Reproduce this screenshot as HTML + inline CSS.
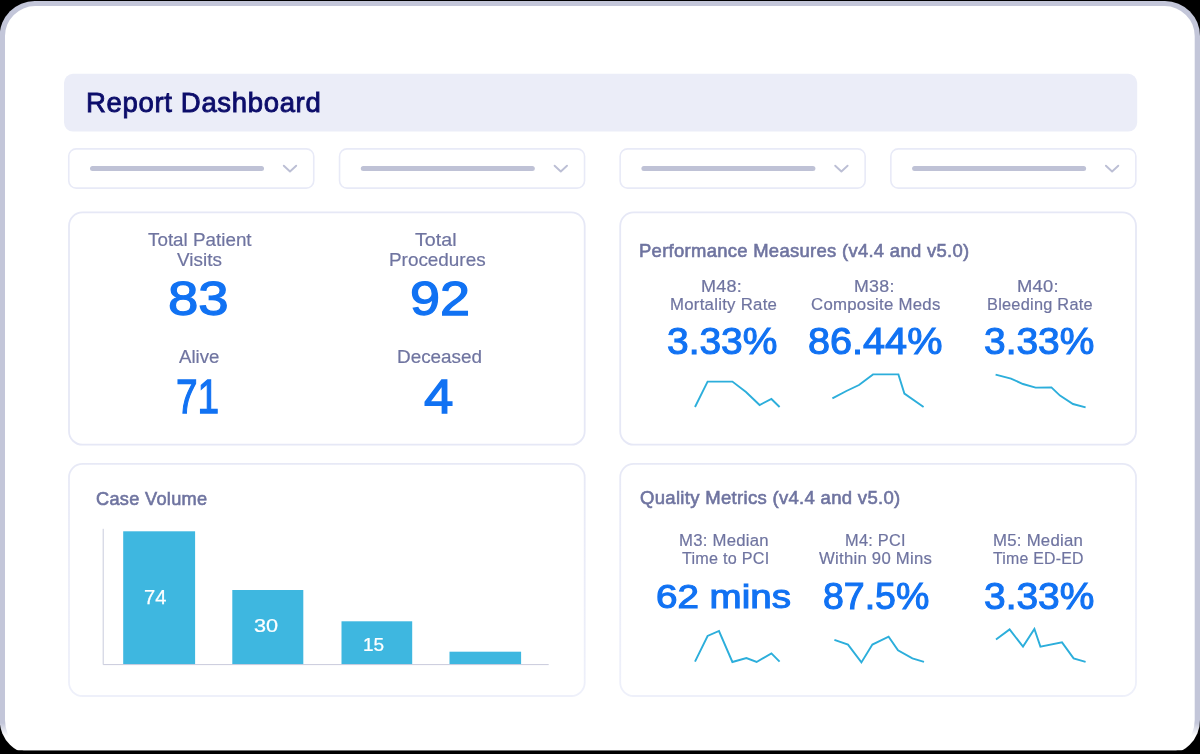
<!DOCTYPE html>
<html lang="en">
<head>
<meta charset="utf-8">
<title>Report Dashboard</title>
<style>
  html, body { margin: 0; padding: 0; }
  body {
    width: 1200px; height: 754px; overflow: hidden; position: relative;
    background: #000;
    font-family: "Liberation Sans", sans-serif;
  }
  #base { position: absolute; left: 0; top: 0; }
  #text { position: absolute; left: 0; top: 0; width: 1200px; height: 754px; will-change: transform; }
  .t { position: absolute; white-space: nowrap; line-height: 1; transform-origin: 0 0; }
</style>
</head>
<body>
<svg id="base" width="1200" height="754" viewBox="0 0 1200 754">
  <defs>
    <linearGradient id="fr" gradientUnits="userSpaceOnUse" x1="0" y1="723" x2="0" y2="736">
      <stop offset="0" stop-color="#c3c6d9"/><stop offset="1" stop-color="#ffffff"/>
    </linearGradient>
    <linearGradient id="cb" gradientUnits="userSpaceOnUse" x1="0" y1="464" x2="0" y2="696">
      <stop offset="0" stop-color="#e7e9f6"/><stop offset="1" stop-color="#eef0fa"/>
    </linearGradient>
    <clipPath id="cut"><rect x="0" y="0" width="1200" height="750.3"/></clipPath>
  </defs>
  <!-- device frame -->
  <g clip-path="url(#cut)">
    <rect x="-0.3" y="1" width="1200.3" height="754" rx="35" fill="url(#fr)"/>
    <path d="M35 6.1 H1164.7 A30 30 0 0 1 1194.7 36.1 V720 A35 35 0 0 1 1159.7 755 H40 A35 35 0 0 1 5 720 V36.1 A30 30 0 0 1 35 6.1 Z" fill="#fff"/>
  </g>
  <!-- title bar -->
  <rect x="64" y="73.8" width="1073.2" height="57.8" rx="9" fill="#ebedf8"/>
  <!-- dropdowns -->
  <g transform="translate(68,148)">
    <rect x="0.75" y="0.85" width="245" height="39.3" rx="7.5" fill="#fff" stroke="#e8eaf7" stroke-width="1.6"/>
    <rect x="22" y="18.1" width="174" height="5" rx="2.5" fill="#bfc2d6"/>
    <path d="M215.8 17.7 L222 23.5 L228.2 17.7" fill="none" stroke="#bcbfd5" stroke-width="1.9" stroke-linejoin="round" stroke-linecap="round"/>
  </g>
  <g transform="translate(338.8,148)">
    <rect x="0.75" y="0.85" width="245" height="39.3" rx="7.5" fill="#fff" stroke="#e8eaf7" stroke-width="1.6"/>
    <rect x="22" y="18.1" width="174" height="5" rx="2.5" fill="#bfc2d6"/>
    <path d="M215.8 17.7 L222 23.5 L228.2 17.7" fill="none" stroke="#bcbfd5" stroke-width="1.9" stroke-linejoin="round" stroke-linecap="round"/>
  </g>
  <g transform="translate(619.4,148)">
    <rect x="0.75" y="0.85" width="245" height="39.3" rx="7.5" fill="#fff" stroke="#e8eaf7" stroke-width="1.6"/>
    <rect x="22" y="18.1" width="174" height="5" rx="2.5" fill="#bfc2d6"/>
    <path d="M215.8 17.7 L222 23.5 L228.2 17.7" fill="none" stroke="#bcbfd5" stroke-width="1.9" stroke-linejoin="round" stroke-linecap="round"/>
  </g>
  <g transform="translate(890.1,148)">
    <rect x="0.75" y="0.85" width="245" height="39.3" rx="7.5" fill="#fff" stroke="#e8eaf7" stroke-width="1.6"/>
    <rect x="22" y="18.1" width="174" height="5" rx="2.5" fill="#bfc2d6"/>
    <path d="M215.8 17.7 L222 23.5 L228.2 17.7" fill="none" stroke="#bcbfd5" stroke-width="1.9" stroke-linejoin="round" stroke-linecap="round"/>
  </g>
  <!-- cards -->
  <g fill="#fff" stroke="#e6e8f6" stroke-width="1.8">
    <rect x="69" y="212.4" width="515.7" height="232.3" rx="13.5"/>
    <rect x="620.2" y="212.4" width="515.8" height="232.3" rx="13.5"/>
    <rect x="69" y="463.9" width="515.7" height="232.1" rx="13.5" stroke="url(#cb)"/>
    <rect x="620.2" y="463.9" width="515.8" height="232.1" rx="13.5" stroke="url(#cb)"/>
  </g>
  <!-- bar chart -->
  <g fill="#3eb7e0">
    <rect x="123.2" y="531.3" width="71.9" height="133.2"/>
    <rect x="232.3" y="590" width="71" height="74.5"/>
    <rect x="341.5" y="621.3" width="70.7" height="43.2"/>
    <rect x="449.5" y="651.7" width="71.6" height="12.8"/>
  </g>
  <path d="M103.2 528.8 V664.6 H548.7" fill="none" stroke="#c9cbdc" stroke-width="1"/>
  <!-- sparklines -->
  <g fill="none" stroke="#2caedb" stroke-width="1.9" stroke-linejoin="miter">
    <polyline points="695,407 707.6,381.6 732.4,381.6 746,392 759.6,405 771.4,399 779.6,407"/>
    <polyline points="832.4,398.4 846.4,391 859,385 873,374.4 898.4,374.4 904.4,393.6 923.6,407"/>
    <polyline points="995.6,374.6 1011,378.6 1023,384 1035.6,387.6 1051.4,387.4 1060,395.6 1073,404 1085.6,407.4"/>
    <polyline points="695,661.6 707.6,636 719,631 732.4,662 746.4,658 756.6,662 771.4,653.4 779.6,661.6"/>
    <polyline points="834.4,639.8 848,644.6 861.4,662.4 872.4,644.6 888.6,636.6 898,650.4 912.4,658.4 924,661.8"/>
    <polyline points="996,639.6 1009.6,629.4 1023,646.6 1034.4,629 1040.4,646.6 1062,642.4 1073.6,658.4 1085.6,661.8"/>
  </g>
</svg>
<div id="text">
<!-- TEXT-START -->
<div class="t" style="left:86.08px;top:87.64px;font-size:28.5px;color:#0c0d6a;letter-spacing:0.7px;-webkit-text-stroke:0.9px #0c0d6a;transform:scale(0.9644,1.0002)">Report Dashboard</div>
<div class="t" style="left:147.7px;top:230.94px;font-size:18.9px;color:#6f74a0;-webkit-text-stroke:0.2px #6f74a0;transform:scale(0.9965,1.0004)">Total Patient</div>
<div class="t" style="left:176.99px;top:250.27px;font-size:19.2px;color:#6f74a0;-webkit-text-stroke:0.2px #6f74a0;transform:scale(0.9862,0.9974)">Visits</div>
<div class="t" style="left:168.08px;top:274.02px;font-size:48.1px;color:#1172f3;-webkit-text-stroke:1.25px #1172f3;transform:scale(1.135,1.0)">83</div>
<div class="t" style="left:415.18px;top:230.94px;font-size:18.9px;color:#6f74a0;-webkit-text-stroke:0.2px #6f74a0;transform:scale(1.0411,1.0004)">Total</div>
<div class="t" style="left:389.05px;top:250.27px;font-size:19.2px;color:#6f74a0;-webkit-text-stroke:0.2px #6f74a0;transform:scale(0.9843,0.9974)">Procedures</div>
<div class="t" style="left:409.91px;top:274.0px;font-size:48.1px;color:#1172f3;-webkit-text-stroke:1.25px #1172f3;transform:scale(1.1235,1.0001)">92</div>
<div class="t" style="left:179.04px;top:347.94px;font-size:18.9px;color:#6f74a0;-webkit-text-stroke:0.2px #6f74a0;transform:scale(0.9873,1.0004)">Alive</div>
<div class="t" style="left:176.41px;top:373.34px;font-size:47.7px;color:#1172f3;-webkit-text-stroke:1.25px #1172f3;transform:scale(0.8142,1.0013)">71</div>
<div class="t" style="left:397.3px;top:347.94px;font-size:18.9px;color:#6f74a0;-webkit-text-stroke:0.2px #6f74a0;transform:scale(0.9999,1.0004)">Deceased</div>
<div class="t" style="left:424.48px;top:373.34px;font-size:47.7px;color:#1172f3;-webkit-text-stroke:1.25px #1172f3;transform:scale(1.1075,1.0013)">4</div>
<div class="t" style="left:639.49px;top:241.92px;font-size:18.4px;color:#6f74a0;letter-spacing:0.3px;-webkit-text-stroke:0.6px #6f74a0;transform:scale(1.002,1.0041)">Performance Measures (v4.4 and v5.0)</div>
<div class="t" style="left:701.13px;top:278.73px;font-size:16.7px;color:#6f74a0;letter-spacing:0.25px;-webkit-text-stroke:0.2px #6f74a0;transform:scale(1.0794,0.9962)">M48:</div>
<div class="t" style="left:669.96px;top:295.76px;font-size:16.5px;color:#6f74a0;letter-spacing:0.25px;-webkit-text-stroke:0.2px #6f74a0;transform:scale(1.0178,1.001)">Mortality Rate</div>
<div class="t" style="left:853.65px;top:278.73px;font-size:16.7px;color:#6f74a0;letter-spacing:0.25px;-webkit-text-stroke:0.2px #6f74a0;transform:scale(1.0652,0.9962)">M38:</div>
<div class="t" style="left:810.91px;top:295.76px;font-size:16.5px;color:#6f74a0;letter-spacing:0.25px;-webkit-text-stroke:0.2px #6f74a0;transform:scale(1.0176,1.001)">Composite Meds</div>
<div class="t" style="left:1017.35px;top:278.73px;font-size:16.7px;color:#6f74a0;letter-spacing:0.25px;-webkit-text-stroke:0.2px #6f74a0;transform:scale(1.1007,0.9962)">M40:</div>
<div class="t" style="left:987.0px;top:295.76px;font-size:16.5px;color:#6f74a0;letter-spacing:0.25px;-webkit-text-stroke:0.2px #6f74a0;transform:scale(0.9902,1.001)">Bleeding Rate</div>
<div class="t" style="left:666.93px;top:323.3px;font-size:37.2px;color:#1172f3;-webkit-text-stroke:1.1px #1172f3;transform:scale(1.0468,0.9989)">3.33%</div>
<div class="t" style="left:808.45px;top:323.3px;font-size:37.2px;color:#1172f3;-webkit-text-stroke:1.1px #1172f3;transform:scale(1.0653,0.9989)">86.44%</div>
<div class="t" style="left:984.13px;top:323.3px;font-size:37.2px;color:#1172f3;-webkit-text-stroke:1.1px #1172f3;transform:scale(1.0459,0.9989)">3.33%</div>
<div class="t" style="left:96.36px;top:489.53px;font-size:18.6px;color:#6f74a0;letter-spacing:0.3px;-webkit-text-stroke:0.6px #6f74a0;transform:scale(0.9785,0.9974)">Case Volume</div>
<div class="t" style="left:144.09px;top:586.86px;font-size:20.0px;color:#ffffff;-webkit-text-stroke:0.25px #ffffff;transform:scale(1.0055,1.0004)">74</div>
<div class="t" style="left:254.11px;top:616.23px;font-size:19.1px;color:#ffffff;-webkit-text-stroke:0.25px #ffffff;transform:scale(1.1346,0.9963)">30</div>
<div class="t" style="left:362.98px;top:634.96px;font-size:19.0px;color:#ffffff;-webkit-text-stroke:0.25px #ffffff;transform:scale(1.0029,0.9994)">15</div>
<div class="t" style="left:640.12px;top:489.22px;font-size:18.4px;color:#6f74a0;letter-spacing:0.3px;-webkit-text-stroke:0.6px #6f74a0;transform:scale(1.0072,1.0041)">Quality Metrics (v4.4 and v5.0)</div>
<div class="t" style="left:679.23px;top:533.03px;font-size:16.7px;color:#6f74a0;letter-spacing:0.25px;-webkit-text-stroke:0.2px #6f74a0;transform:scale(1.0024,0.9962)">M3: Median</div>
<div class="t" style="left:682.02px;top:551.13px;font-size:16.7px;color:#6f74a0;letter-spacing:0.25px;-webkit-text-stroke:0.2px #6f74a0;transform:scale(0.9702,0.9962)">Time to PCI</div>
<div class="t" style="left:845.0px;top:533.03px;font-size:16.7px;color:#6f74a0;letter-spacing:0.25px;-webkit-text-stroke:0.2px #6f74a0;transform:scale(0.9809,0.9962)">M4: PCI</div>
<div class="t" style="left:819.05px;top:551.13px;font-size:16.7px;color:#6f74a0;letter-spacing:0.25px;-webkit-text-stroke:0.2px #6f74a0;transform:scale(1.0018,0.9962)">Within 90 Mins</div>
<div class="t" style="left:992.97px;top:533.03px;font-size:16.7px;color:#6f74a0;letter-spacing:0.25px;-webkit-text-stroke:0.2px #6f74a0;transform:scale(1.0053,0.9962)">M5: Median</div>
<div class="t" style="left:992.99px;top:551.13px;font-size:16.7px;color:#6f74a0;letter-spacing:0.25px;-webkit-text-stroke:0.2px #6f74a0;transform:scale(0.9506,0.9962)">Time ED-ED</div>
<div class="t" style="left:655.67px;top:580.05px;font-size:33.4px;color:#1172f3;-webkit-text-stroke:1.1px #1172f3;transform:scale(1.1552,0.9992)">62 mins</div>
<div class="t" style="left:822.52px;top:578.3px;font-size:37.2px;color:#1172f3;-webkit-text-stroke:1.1px #1172f3;transform:scale(1.0078,0.9989)">87.5%</div>
<div class="t" style="left:984.13px;top:578.3px;font-size:37.2px;color:#1172f3;-webkit-text-stroke:1.1px #1172f3;transform:scale(1.0459,0.9989)">3.33%</div>
<!-- TEXT-END -->
</div>
</body>
</html>
